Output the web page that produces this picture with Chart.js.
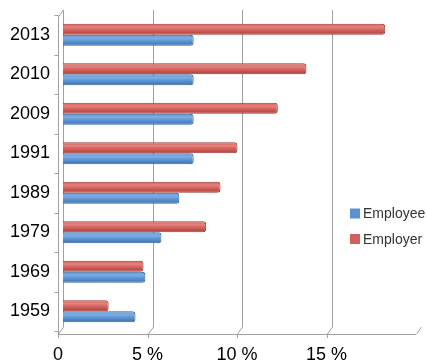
<!DOCTYPE html>
<html>
<head>
<meta charset="utf-8">
<script src="https://cdn.jsdelivr.net/npm/chart.js@4/dist/chart.umd.min.js"></script>
<style>
html,body{margin:0;padding:0;background:#fff;}
#wrap{width:426px;height:364px;position:relative;}
</style>
</head>
<body>
<div id="wrap"><canvas id="c" width="426" height="364"></canvas></div>
<script>
const categories = ["2013","2010","2009","1991","1989","1979","1969","1959"];
const employer = [18.0, 13.6, 12.0, 9.75, 8.8, 8.0, 4.5, 2.55];
const employee = [7.3, 7.3, 7.3, 7.3, 6.5, 5.5, 4.6, 4.05];
const xTicks = [0, 5, 10, 15];
const seriesNames = ["Employer", "Employee"];
const legendOrder = ["Employee", "Employer"];

const PAL = {
  Employer: { base: "#D35F5A", light: "#E4827D", dark: "#A9423E", border: "#9A3A36" },
  Employee: { base: "#5A93D3", light: "#7DAEE3", dark: "#3D70AC", border: "#33659F" }
};
const AXIS = "#A0A0A0";
const CAT_PCT = 0.56, BAR_PCT = 0.99;

function barFill(context) {
  const chart = context.chart;
  const pal = PAL[context.dataset.label];
  const y = chart.scales && chart.scales.y;
  if (!y || context.dataIndex === undefined || !chart.chartArea) return pal.base;
  const n = chart.data.datasets.length;
  const band = (chart.chartArea.bottom - chart.chartArea.top) / categories.length;
  const size = band * CAT_PCT / n;
  const center = y.getPixelForValue(context.dataIndex);
  const top = center - band * CAT_PCT / 2 + size * context.datasetIndex;
  const th = size * BAR_PCT;
  const g = chart.ctx.createLinearGradient(0, top, 0, top + th);
  g.addColorStop(0, pal.base);
  g.addColorStop(0.3, pal.light);
  g.addColorStop(0.6, pal.base);
  g.addColorStop(1, pal.dark);
  return g;
}

const decor = {
  id: "decor",
  beforeDatasetsDraw(chart) {
    const ctx = chart.ctx, x = chart.scales.x, y = chart.scales.y, ca = chart.chartArea;
    const dx = -5, backTop = ca.top - 5, backBot = ca.bottom - 4, front = ca.bottom + 3;
    ctx.save();
    ctx.strokeStyle = AXIS; ctx.lineWidth = 1;
    [0,5,10,15,20].forEach(v => {
      const px = Math.round(x.getPixelForValue(v)) + 0.5;
      if (v < 20) { ctx.beginPath(); ctx.moveTo(px, backTop); ctx.lineTo(px, backBot); ctx.stroke(); }
      ctx.beginPath(); ctx.moveTo(px, backBot); ctx.lineTo(px + dx, front); ctx.stroke();
      if (v <= 15) { ctx.beginPath(); ctx.moveTo(px + dx, front); ctx.lineTo(px + dx, front + 4); ctx.stroke(); }
    });
    const fy = front + 0.5;
    ctx.beginPath(); ctx.moveTo(x.getPixelForValue(0) + dx, fy); ctx.lineTo(x.getPixelForValue(20) + dx, fy); ctx.stroke();
    const fx = Math.round(x.getPixelForValue(0)) + dx + 0.5;
    ctx.beginPath(); ctx.moveTo(ca.left + 0.5, backTop); ctx.lineTo(fx, backTop + 7); ctx.lineTo(fx, fy); ctx.stroke();
    const n = categories.length;
    for (let i = 0; i <= n; i++) {
      const py = Math.round(y.getPixelForValue(i - 0.5)) + 0.5;
      ctx.beginPath(); ctx.moveTo(fx - 4, py); ctx.lineTo(fx, py); ctx.stroke();
    }
    ctx.restore();
  },
  afterDraw(chart) {
    const ctx = chart.ctx;
    ctx.save();
    ctx.font = "14px 'Liberation Sans', Arial, sans-serif";
    ctx.textBaseline = "middle";
    legendOrder.forEach((name, i) => {
      const ly = 213.5 + i * 25.5;
      ctx.fillStyle = PAL[name].base;
      ctx.fillRect(350, ly - 5, 10, 10);
      ctx.fillStyle = "#333";
      ctx.fillText(name, 363, ly + 1);
    });
    ctx.restore();
  }
};

new Chart(document.getElementById("c"), {
  type: "bar",
  data: {
    labels: categories,
    datasets: [
      { label: seriesNames[0], data: employer, backgroundColor: barFill, borderColor: PAL.Employer.border, borderWidth: 1, borderRadius: 3, borderSkipped: "start" },
      { label: seriesNames[1], data: employee, backgroundColor: barFill, borderColor: PAL.Employee.border, borderWidth: 1, borderRadius: 3, borderSkipped: "start" }
    ]
  },
  options: {
    indexAxis: "y",
    responsive: false,
    animation: false,
    layout: { padding: { top: 15, right: 5, left: 0, bottom: 0 } },
    categoryPercentage: CAT_PCT,
    barPercentage: BAR_PCT,
    plugins: { legend: { display: false }, tooltip: { enabled: false } },
    scales: {
      x: {
        min: 0, max: 20,
        afterBuildTicks(s) { s.ticks = [0,5,10,15,20].map(v => ({ value: v })); },
        afterFit(s) { s.height = 33; s.paddingLeft = 0; s.paddingRight = 0; },
        border: { display: false },
        grid: { display: false, drawTicks: false },
        ticks: {
          padding: 13,
          labelOffset: -5,
          color: "#000",
          font: { size: 18, family: "'Liberation Sans', Arial, sans-serif" },
          callback: v => xTicks.includes(v) ? (v === 0 ? "0" : v + " %") : ""
        }
      },
      y: {
        afterFit(s) { s.width = 63; s.paddingTop = 0; s.paddingBottom = 0; },
        border: { display: false },
        grid: { display: false, drawTicks: false },
        ticks: {
          padding: 13,
          color: "#000",
          font: { size: 18, family: "'Liberation Sans', Arial, sans-serif" }
        }
      }
    }
  },
  plugins: [decor]
});
</script>
</body>
</html>
